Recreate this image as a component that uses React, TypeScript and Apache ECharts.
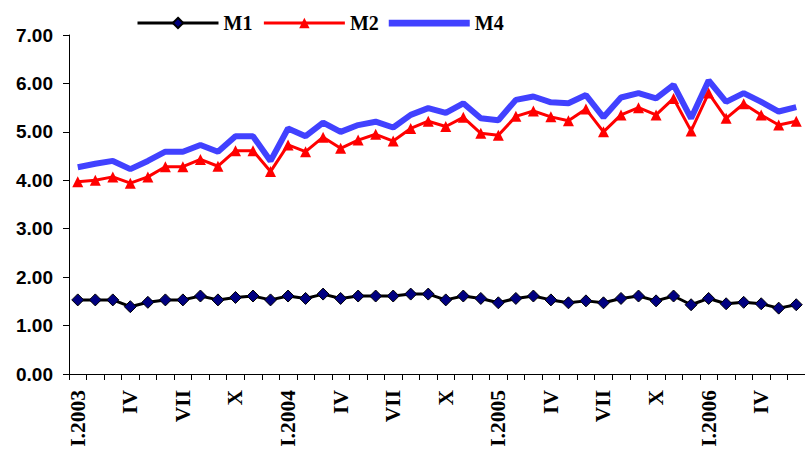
import React, { useEffect, useRef } from "react";
import * as echarts from "echarts";

const roman = ["I", "II", "III", "IV", "V", "VI", "VII", "VIII", "IX", "X", "XI", "XII"];
const years = [2003, 2004, 2005, 2006];
const monthCount = 42;

const categories: string[] = [];
for (let i = 0; i < monthCount; i++) {
  const m = i % 12;
  const y = years[Math.floor(i / 12)];
  categories.push(m === 0 ? `I.${y}` : roman[m]);
}

const m1Values = [
  1.53, 1.53, 1.53, 1.39, 1.48, 1.53, 1.53, 1.61, 1.53, 1.58, 1.61, 1.53, 1.61, 1.56,
  1.65, 1.56, 1.61, 1.61, 1.61, 1.65, 1.65, 1.53, 1.61, 1.56, 1.47, 1.56, 1.61, 1.53,
  1.47, 1.51, 1.47, 1.56, 1.61, 1.51, 1.61, 1.43, 1.56, 1.45, 1.48, 1.45, 1.36, 1.43,
];

const m2Values = [
  3.97, 4.0, 4.07, 3.94, 4.07, 4.28, 4.28, 4.43, 4.29, 4.61, 4.61, 4.18, 4.73, 4.59,
  4.89, 4.66, 4.83, 4.95, 4.81, 5.07, 5.22, 5.11, 5.3, 4.97, 4.93, 5.32, 5.43, 5.31,
  5.23, 5.47, 5.0, 5.35, 5.5, 5.35, 5.69, 5.02, 5.8, 5.28, 5.58, 5.35, 5.14, 5.22,
];

const m4Values = [
  4.27, 4.34, 4.4, 4.23, 4.4, 4.59, 4.59, 4.73, 4.59, 4.91, 4.91, 4.4, 5.07, 4.91,
  5.19, 5.0, 5.14, 5.21, 5.09, 5.35, 5.49, 5.39, 5.59, 5.28, 5.24, 5.66, 5.73, 5.61,
  5.59, 5.76, 5.3, 5.71, 5.8, 5.69, 5.97, 5.28, 6.06, 5.62, 5.8, 5.62, 5.42, 5.51,
];

const seriesNames = ["M1", "M2", "M4"];

export default function App() {
  const ref = useRef<HTMLDivElement>(null);
  useEffect(() => {
    if (!ref.current) return;
    const chart = echarts.init(ref.current, null, { renderer: "svg" });
    chart.setOption({
      animation: false,
      backgroundColor: "#ffffff",
      legend: {
        data: [
          { name: seriesNames[0] },
          { name: seriesNames[1] },
          { name: seriesNames[2], icon: "path://M0,0 L84,0 L84,7 L0,7 Z", itemStyle: { color: "#4141ff" } },
        ],
        left: 131,
        top: 8,
        itemWidth: 81,
        itemHeight: 13,
        itemGap: 10,
        lineStyle: { width: 3 },
        textStyle: {
          fontFamily: "Liberation Serif",
          fontWeight: "bold",
          fontSize: 20,
          color: "#000",
        },
      },
      grid: { left: 69, right: -7, top: 35, bottom: 76, containLabel: false },
      xAxis: {
        type: "category",
        data: categories,
        boundaryGap: true,
        axisLine: { lineStyle: { color: "#000", width: 1 } },
        axisTick: { show: true, interval: 0, length: 6, lineStyle: { color: "#000" } },
        axisLabel: {
          interval: 2,
          rotate: 90,
          margin: 16,
          fontFamily: "Liberation Serif",
          fontWeight: "bold",
          fontSize: 21.5,
          color: "#000",
        },
        splitLine: { show: false },
      },
      yAxis: {
        type: "value",
        min: 0,
        max: 7,
        interval: 1,
        axisLine: { show: true, lineStyle: { color: "#000", width: 1 } },
        axisTick: { show: true, length: 6, lineStyle: { color: "#000" } },
        axisLabel: {
          margin: 16,
          formatter: (v: number) => v.toFixed(2),
          fontFamily: "Liberation Sans",
          fontWeight: "bold",
          fontSize: 19,
          color: "#000",
        },
        splitLine: { show: false },
      },
      series: [
        {
          name: "M1",
          type: "line",
          data: m1Values,
          z: 3,
          symbol: "diamond",
          symbolSize: 12,
          showAllSymbol: true,
          lineStyle: { color: "#000", width: 3 },
          itemStyle: { color: "#000080", borderColor: "#000", borderWidth: 1 },
        },
        {
          name: "M2",
          type: "line",
          data: m2Values,
          z: 3,
          symbol: "triangle",
          symbolSize: 11,
          showAllSymbol: true,
          lineStyle: { color: "#ff0000", width: 3 },
          itemStyle: { color: "#ff0000" },
        },
        {
          name: "M4",
          type: "line",
          data: m4Values,
          z: 2,
          symbol: "none",
          lineStyle: { color: "#4141ff", width: 6 },
          itemStyle: { color: "#4141ff" },
        },
      ],
    });
    return () => chart.dispose();
  }, []);
  return (
    <div
      ref={ref}
      style={{ position: "absolute", left: 0, top: 0, width: 805, height: 450, overflow: "hidden" }}
    />
  );
}
